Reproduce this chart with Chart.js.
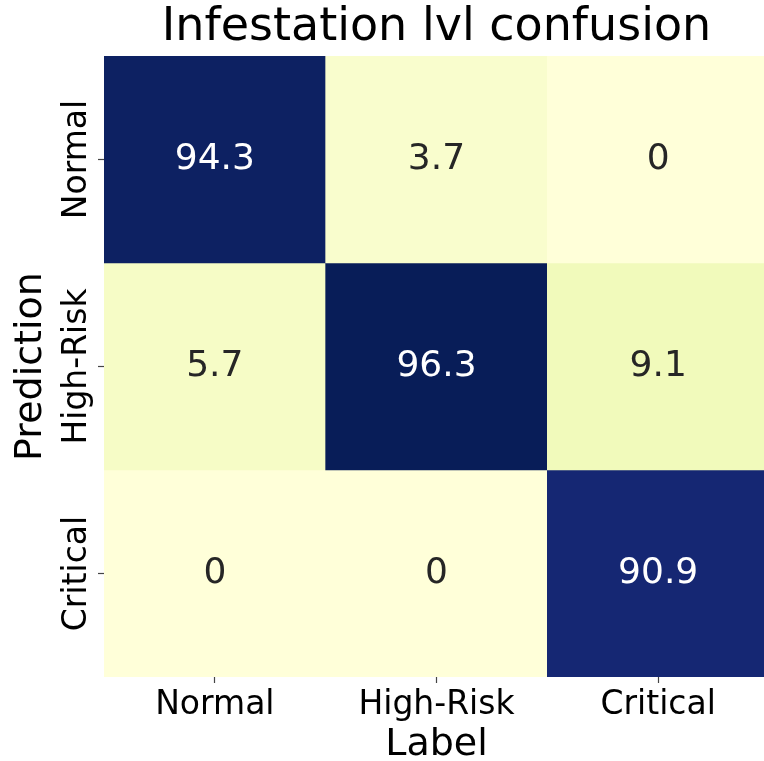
<!DOCTYPE html>
<html>
<head>
<meta charset="utf-8">
<script src="https://cdn.jsdelivr.net/npm/chart.js@4/dist/chart.umd.min.js"></script>
<style>
  html, body { margin: 0; background: #fff; overflow: hidden; width: 764px; height: 761px; }
  canvas { display: block; }
</style>
</head>
<body>
<!-- canvas is a few px wider than the window: the plot runs past the right edge, like the original crop -->
<canvas id="cm" width="769" height="761"></canvas>
<script>
// Confusion matrix data (rows = Prediction, columns = Label)
const classes = ["Normal", "High-Risk", "Critical"];
const predNormal = [94.3, 3.7, 0];
const predHighRisk = [5.7, 96.3, 9.1];
const predCritical = [0, 0, 90.9];
const matrixRows = [predNormal, predHighRisk, predCritical];

const FONT = "'DejaVu Sans', sans-serif";

// YlGnBu colormap stops
const ylGnBu = ["#ffffd9", "#edf8b1", "#c7e9b4", "#7fcdbb", "#41b6c4", "#1d91c0", "#225ea8", "#253494", "#081d58"];
const vmax = Math.max(...matrixRows.flat());

function hexToRgb(h) {
  return [1, 3, 5].map(i => parseInt(h.slice(i, i + 2), 16));
}
function cmap(v) {
  const t = Math.min(Math.max(v / vmax, 0), 1) * (ylGnBu.length - 1);
  const i = Math.min(Math.floor(t), ylGnBu.length - 2);
  const f = t - i;
  const a = hexToRgb(ylGnBu[i]), b = hexToRgb(ylGnBu[i + 1]);
  const c = a.map((x, k) => Math.round(x + (b[k] - x) * f));
  return `rgb(${c[0]},${c[1]},${c[2]})`;
}

// one dataset per row, each cell is a floating bar spanning [row, row+1]
const datasets = matrixRows.map((row, r) => ({
  label: classes[r],
  data: row.map(() => [r, r + 1]),
  values: row,
  backgroundColor: row.map(cmap),
  borderWidth: 0,
  borderSkipped: false,
  barPercentage: 1,
  categoryPercentage: 1,
  grouped: false,
}));

// cell numbers + rotated y tick labels
const annotate = {
  id: "annotate",
  afterDatasetsDraw(chart) {
    const ctx = chart.ctx;
    ctx.save();
    ctx.font = `36px ${FONT}`;
    ctx.textAlign = "center";
    ctx.textBaseline = "middle";
    chart.data.datasets.forEach((ds, r) => {
      chart.getDatasetMeta(r).data.forEach((bar, c) => {
        const v = ds.values[c];
        ctx.fillStyle = v / vmax > 0.5 ? "#ffffff" : "#262626";
        const cy = (bar.y + bar.base) / 2;
        ctx.fillText(String(v), bar.x, cy);
      });
    });
    ctx.restore();
  },
  afterDraw(chart) {
    const ctx = chart.ctx;
    const y = chart.scales.y;
    ctx.save();
    ctx.font = `33px ${FONT}`;
    ctx.fillStyle = "#000";
    ctx.textAlign = "center";
    ctx.textBaseline = "alphabetic";
    classes.forEach((name, r) => {
      const py = y.getPixelForValue(r + 0.5);
      ctx.save();
      ctx.translate(86, py);
      ctx.rotate(-Math.PI / 2);
      ctx.fillText(name, 0, 0);
      ctx.restore();
    });
    ctx.restore();
  }
};

new Chart(document.getElementById("cm"), {
  type: "bar",
  data: { labels: classes, datasets: datasets },
  plugins: [annotate],
  options: {
    responsive: false,
    animation: false,
    layout: { padding: 0 },
    plugins: {
      legend: { display: false },
      tooltip: { enabled: false },
      title: {
        display: true,
        fullSize: false,
        text: "Infestation lvl confusion",
        color: "#000",
        font: { family: FONT, size: 46, weight: "normal", lineHeight: 1.1 },
        padding: { top: 3, bottom: 2.4 },
      },
    },
    scales: {
      x: {
        offset: true,
        border: { display: false },
        grid: { offset: false, drawOnChartArea: false, drawTicks: true, tickLength: 6, tickColor: "#444", tickWidth: 1.2 },
        ticks: { color: "#000", font: { family: FONT, size: 33 }, padding: 3, maxRotation: 0 },
        title: {
          display: true,
          text: "Label",
          color: "#000",
          font: { family: FONT, size: 38, lineHeight: 0.85 },
          padding: 0,
        },
        afterFit(scale) { scale.height = 84; },
      },
      y: {
        type: "linear",
        min: 0,
        max: 3,
        reverse: true,
        border: { display: false },
        grid: { drawOnChartArea: false, drawTicks: true, tickLength: 6, tickColor: "#444", tickWidth: 1.2 },
        ticks: { display: false },
        afterBuildTicks(scale) {
          scale.ticks = classes.map((_, i) => ({ value: i + 0.5 }));
        },
        title: {
          display: true,
          text: "Prediction",
          color: "#000",
          font: { family: FONT, size: 38, lineHeight: 1.2 },
          padding: { top: 8, bottom: 0 },
        },
        afterFit(scale) { scale.width = 104; },
      },
    },
  },
});
</script>
</body>
</html>
